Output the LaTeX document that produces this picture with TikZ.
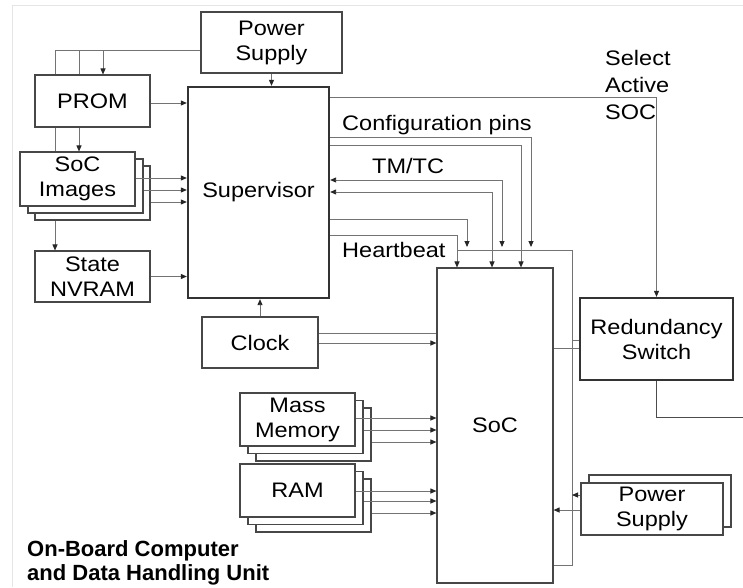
\documentclass[tikz,border=0pt]{standalone}
\usepackage{fontspec}
\setmainfont[FakeStretch=1.12]{Liberation Sans}
\newfontfamily\titlefont{Liberation Sans}
\usetikzlibrary{arrows.meta}
\begin{document}
\begin{tikzpicture}[x=1pt,y=-1pt,
  lbl/.style={font=\fontsize{21}{25}\selectfont, align=center, inner sep=0pt},
  box/.style={lbl, draw=black!72, line width=1.1pt, fill=white},
  thickbox/.style={box, line width=2.3pt, draw=black!80},
  wire/.style={draw=black!55, line width=0.9pt},
  arr/.style={wire, -{Triangle[length=6pt,width=5pt,color=black!85]}},
  biarr/.style={wire, {Triangle[length=6pt,width=5pt,color=black!85]}-{Triangle[length=6pt,width=5pt,color=black!85]}},
  sig/.style={lbl, align=left, anchor=west}]
\useasboundingbox (0,0) rectangle (743,587);
% outer frame
\draw[black!10, line width=1pt] (743,5) -- (12,5) -- (12,587);

% supervisor side
\node[box, minimum width=141, minimum height=61] (ps1) at (271.5,42.5) {Power\\Supply};
\node[box, minimum width=115, minimum height=52] (prom) at (92.5,101) {PROM};
\node[box, minimum width=115, minimum height=54] (img3) at (92.5,193) {};
\node[box, minimum width=115, minimum height=54] (img2) at (85.5,186) {};
\node[box, minimum width=115, minimum height=54] (img) at (77.5,179) {SoC\\Images};
\node[box, minimum width=115, minimum height=51] (nvram) at (92.5,276.5) {State\\NVRAM};
\node[thickbox, minimum width=141, minimum height=211] (sup) at (258.5,192.5) {Supervisor};
\node[box, minimum width=116, minimum height=51] (clock) at (260,342.5) {Clock};

% SoC side
\node[box, minimum width=116, minimum height=315] (soc) at (495,425.5) {SoC};
\node[thickbox, minimum width=153, minimum height=82] (rs) at (656.5,339) {Redundancy\\Switch};
\node[box, minimum width=142, minimum height=52] (ps2b) at (660,501) {};
\node[box, minimum width=142, minimum height=52] (ps2) at (652,509) {Power\\Supply};
\node[box, minimum width=115, minimum height=53] (mm3) at (313.5,434.5) {};
\node[box, minimum width=115, minimum height=53] (mm2) at (305.5,427) {};
\node[box, minimum width=115, minimum height=53] (mm) at (297.5,419.5) {Mass\\Memory};
\node[box, minimum width=115, minimum height=53] (ram3) at (313.5,505.5) {};
\node[box, minimum width=115, minimum height=53] (ram2) at (305.5,498) {};
\node[box, minimum width=115, minimum height=53] (ram) at (297.5,490.5) {RAM};

% signal labels
\node[sig] (lcfg) at (342,125) {Configuration pins};
\node[sig] (ltm) at (372,166) {TM/TC};
\node[sig] (lhb) at (342,250) {Heartbeat};
\node[lbl, align=left, anchor=north west, font=\fontsize{21}{27}\selectfont] (lsel) at (605,50) {Select\\Active\\SOC};
\node[lbl, align=left, anchor=north west, font=\titlefont\bfseries\fontsize{22}{24}\selectfont] (title) at (27,540) {On-Board Computer\\and Data Handling Unit};

% power distribution on the left
\draw[wire] (ps1.west |- 0,50) -| (55,0 |- prom.north);
\draw[wire] (79,50) -- (79,0 |- prom.north);
\draw[arr] (103,50) -- (103,0 |- prom.north);
\draw[wire] (55,0 |- prom.south) -- (55,0 |- img.north);
\draw[arr] (79,0 |- prom.south) -- (79,0 |- img.north);
\draw[arr] (55,0 |- img3.south) -- (55,0 |- nvram.north);
\draw[arr] (ps1.south) -- (ps1.south |- sup.north);

% inputs to the supervisor
\draw[arr] (prom.east |- 0,103) -- (sup.west |- 0,103);
\draw[arr] (img.east |- 0,178) -- (sup.west |- 0,178);
\draw[arr] (img2.east |- 0,190) -- (sup.west |- 0,190);
\draw[arr] (img3.east |- 0,202) -- (sup.west |- 0,202);
\draw[arr] (nvram.east) -- (nvram.east -| sup.west);
\draw[arr] (clock.north) -- (clock.north |- sup.south);

% clock to SoC
\draw[wire] (clock.east |- 0,333) -- (soc.west |- 0,333);
\draw[arr] (clock.east |- 0,343) -- (soc.west |- 0,343);

% supervisor to SoC and switch
\draw[arr] (sup.east |- 0,97) -| (rs.north);
\draw[arr] (sup.east |- 0,137) -| (531,247);
\draw[arr] (sup.east |- 0,145) -| (521,0 |- soc.north);
\draw[biarr] (sup.east |- 0,180) -| (502,247);
\draw[biarr] (sup.east |- 0,192) -| (492,0 |- soc.north);
\draw[arr] (sup.east |- 0,219) -| (467,247);
\draw[arr] (sup.east |- 0,235) -| (457,0 |- soc.north);

% shared bus round the SoC
\draw[wire] (457,250) -| (572,565) -- (soc.east |- 0,565);
\draw[wire] (rs.west |- 0,340) -- (572,340);
\draw[wire] (rs.west |- 0,348) -- (soc.east |- 0,348);
\draw[wire, draw=black!70] (rs.south) |- (743,417);

% power to the SoC
\draw[arr] (ps2.west |- 0,495) -- (572,495);
\draw[arr] (ps2.west |- 0,510) -- (soc.east |- 0,510);

% memories to the SoC
\draw[arr] (mm.east |- 0,418) -- (soc.west |- 0,418);
\draw[arr] (mm2.east |- 0,430) -- (soc.west |- 0,430);
\draw[arr] (mm3.east |- 0,442) -- (soc.west |- 0,442);
\draw[arr] (ram.east |- 0,491) -- (soc.west |- 0,491);
\draw[arr] (ram2.east |- 0,501) -- (soc.west |- 0,501);
\draw[arr] (ram3.east |- 0,513) -- (soc.west |- 0,513);
\end{tikzpicture}
\end{document}
